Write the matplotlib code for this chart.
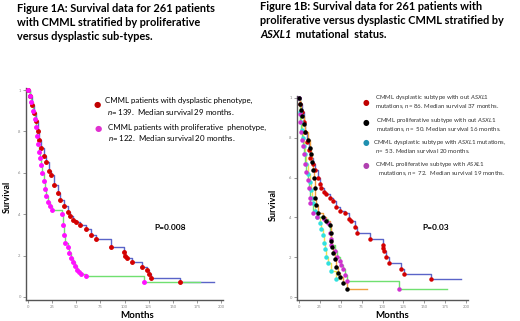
import numpy as np
import matplotlib
matplotlib.use("Agg")
import matplotlib.pyplot as plt

plt.rcParams['font.family'] = ['Lato', 'DejaVu Sans']
plt.rcParams['mathtext.fontset'] = 'custom'
plt.rcParams['mathtext.rm'] = 'Lato'
plt.rcParams['mathtext.it'] = 'Lato:italic'

#%% data
x_ticks = [0, 25, 50, 75, 100, 125, 150, 175, 200]
y_ticks = [0, 0.2, 0.4, 0.6, 0.8, 1.0]
y_ticklabels = ['0', '.2', '.4', '.6', '.8', '1']

# Fig 1A
dys_t = [0, 2, 4, 6, 8, 10, 11, 14, 17, 19, 22, 24, 27, 31, 33, 37, 41, 44, 47, 50,
         54, 60, 65, 70, 86, 99, 101, 103, 108, 118, 123, 125, 127, 157]
dys_s = [1.0, 0.97, 0.93, 0.89, 0.85, 0.8, 0.76, 0.72, 0.68, 0.65, 0.61, 0.59, 0.54, 0.5,
         0.47, 0.44, 0.41, 0.39, 0.37, 0.36, 0.35, 0.33, 0.3, 0.28, 0.24, 0.215, 0.2, 0.19,
         0.17, 0.145, 0.13, 0.11, 0.09, 0.07]
dys_end = 193

pro_t = [0, 2, 3, 5, 7, 8, 9, 10, 11, 12, 14, 15, 17, 18, 19, 21, 23, 25, 35, 36, 37, 38,
         41, 43, 45, 47, 49, 51, 53, 55, 60, 120]
pro_s = [1.0, 0.97, 0.94, 0.9, 0.86, 0.82, 0.78, 0.74, 0.7, 0.67, 0.64, 0.6, 0.56, 0.52,
         0.49, 0.46, 0.44, 0.42, 0.4, 0.35, 0.3, 0.26, 0.24, 0.21, 0.19, 0.17, 0.15, 0.13,
         0.12, 0.11, 0.1, 0.07]
pro_end = 178

# Fig 1B
dwo_t = [0, 2, 4, 6, 8, 10, 12, 14, 17, 20, 23, 25, 27, 30, 33, 37, 41, 45, 49, 55, 60,
         63, 67, 70, 85, 100, 101, 102, 104, 108, 122, 126, 158]
dwo_s = [1.0, 0.97, 0.93, 0.88, 0.83, 0.78, 0.74, 0.7, 0.67, 0.64, 0.6, 0.57, 0.55, 0.53,
         0.52, 0.5, 0.48, 0.45, 0.43, 0.42, 0.39, 0.38, 0.35, 0.32, 0.29, 0.26, 0.245,
         0.23, 0.2, 0.17, 0.14, 0.115, 0.09]
dwo_end = 194

pwo_t = [0, 2, 3, 4, 6, 8, 11, 13, 15, 16, 17, 18, 19, 20, 21, 23, 29, 33, 37, 38, 39,
         40, 41, 43, 45, 47, 49, 53, 58]
pwo_s = [1.0, 0.97, 0.94, 0.91, 0.87, 0.83, 0.79, 0.75, 0.72, 0.68, 0.64, 0.6, 0.55, 0.5,
         0.46, 0.42, 0.4, 0.38, 0.36, 0.32, 0.28, 0.25, 0.22, 0.19, 0.15, 0.12, 0.1, 0.07,
         0.04]
pwo_end = 81

dwa_t = [0, 1, 3, 4, 5, 6, 7, 9, 11, 13, 15, 16, 17, 19, 22, 25, 27, 29, 30, 31, 33, 35,
         39, 45]
dwa_s = [1.0, 0.93, 0.88, 0.84, 0.8, 0.76, 0.72, 0.67, 0.62, 0.58, 0.54, 0.5, 0.47, 0.43,
         0.4, 0.37, 0.34, 0.31, 0.27, 0.24, 0.2, 0.17, 0.13, 0.09]
dwa_end = 50

pwa_t = [0, 1, 2, 3, 4, 5, 6, 7, 9, 11, 12, 13, 14, 17, 22, 30, 35, 37, 38, 39, 43, 46,
         49, 51, 53, 55, 58, 120]
pwa_s = [1.0, 0.92, 0.88, 0.83, 0.79, 0.76, 0.72, 0.67, 0.63, 0.59, 0.55, 0.5, 0.47, 0.42,
         0.4, 0.39, 0.37, 0.32, 0.29, 0.26, 0.23, 0.2, 0.18, 0.16, 0.14, 0.11, 0.08, 0.04]
pwa_end = 177


def km(ax, t, s, t_end, line_c, mark_c, ms=2.5):
    ax.step(t + [t_end], s + [s[-1]], where='post', color=line_c, lw=1.0, zorder=2)
    ax.plot(t, s, 'o', ms=ms, color=mark_c, mec=mark_c, zorder=3)


def style(ax):
    ax.set_xlim(-2, 202)
    ax.set_ylim(-0.015, 1.01)
    ax.set_xticks(x_ticks)
    ax.set_xticklabels([str(v) for v in x_ticks], fontsize=3, color='#888888')
    ax.set_yticks(y_ticks)
    ax.set_yticklabels(y_ticklabels, fontsize=3, color='#888888')
    ax.tick_params(length=2, width=0.6, pad=1.5, colors='#888888')
    for side in ['top', 'right']:
        ax.spines[side].set_visible(False)
    for side in ['left', 'bottom']:
        ax.spines[side].set_color('#555555')
        ax.spines[side].set_linewidth(1.0)


fig = plt.figure(figsize=(5.2, 3.21), dpi=100)
W, H = 520.0, 321.0

#%% left panel
axA = fig.add_axes([26 / W, 21 / H, 197 / W, 212 / H])
style(axA)
km(axA, dys_t, dys_s, dys_end, '#5a64c8', '#d40000')
km(axA, pro_t, pro_s, pro_end, '#70e070', '#ff10ff')

#%% right panel
axB = fig.add_axes([297 / W, 21 / H, 171 / W, 204 / H])
style(axB)
km(axB, dwo_t, dwo_s, dwo_end, '#5a64c8', '#d40000', ms=2.2)
km(axB, dwa_t, dwa_s, dwa_end, '#f0e050', '#30e0e0', ms=2.2)
km(axB, pwa_t, pwa_s, pwa_end, '#70e070', '#d030d0', ms=2.2)
km(axB, pwo_t, pwo_s, pwo_end, '#f0a040', '#000000', ms=2.2)


def fx(px):
    return px / W


def fy(py):
    return 1 - py / H


# titles
for yy, s in [(8, 'Figure 1A: Survival data for 261 patients'),
              (23, 'with CMML stratified by proliferative'),
              (37, 'versus dysplastic sub-types.')]:
    fig.text(fx(17), fy(yy), s, fontsize=7.9, fontweight='bold', va='center', ha='left')
fig.text(fx(260), fy(6), 'Figure 1B: Survival data for 261 patients with', fontsize=7.9,
         fontweight='bold', va='center', ha='left')
fig.text(fx(260), fy(20), 'proliferative versus dysplastic CMML stratified by', fontsize=7.9,
         fontweight='bold', va='center', ha='left')
fig.text(fx(260), fy(34), 'ASXL1', fontsize=7.9, fontweight='bold', style='italic',
         va='center', ha='left')
fig.text(fx(296), fy(34), 'mutational  status.', fontsize=7.9, fontweight='bold',
         va='center', ha='left')

# axis labels
for xx, yy in [(7, 197), (273, 205)]:
    fig.text(fx(xx), fy(yy), 'Survival', fontsize=6.5, fontweight='bold', rotation=90,
             va='center', ha='center')
for xx in [137, 392]:
    fig.text(fx(xx), fy(316), 'Months', fontsize=7, fontweight='bold', va='center', ha='center')

fig.text(fx(170), fy(228), 'P=0.008', fontsize=6, fontweight='bold', va='center', ha='center')
fig.text(fx(436), fy(228), 'P=0.03', fontsize=6, fontweight='bold', va='center', ha='center')

# legend A
fig.text(fx(97), fy(105), '●', color='#c00000', fontsize=6, va='center', ha='center', family='DejaVu Sans')
fig.text(fx(98), fy(129), '●', color='#e030d0', fontsize=6, va='center', ha='center', family='DejaVu Sans')
fig.text(fx(105), fy(100), 'CMML patients with dysplastic phenotype,', fontsize=5.7, va='center')
fig.text(fx(107), fy(112), r'$\mathit{n}$= 139.  Median survival 29 months.', fontsize=5.7, va='center')
fig.text(fx(108), fy(127), 'CMML patients with proliferative  phenotype,', fontsize=5.7, va='center')
fig.text(fx(108), fy(138), r'$\mathit{n}$= 122.  Median survival 20 months.', fontsize=5.7, va='center')

# legend B
for yy, c in [(102, '#c00000'), (123, '#000000'), (142, '#2090b0'), (166, '#b040b0')]:
    fig.text(fx(366), fy(yy), '●', color=c, fontsize=5.5, va='center', ha='center', family='DejaVu Sans')
legB = [
    (375, 98, r'CMML dysplastic subtype with out $\mathit{ASXL1}$'),
    (375, 107, r'mutations, $\mathit{n}$= 86. Median survival 37 months.'),
    (376, 121, r'CMML proliferative subtype with out $\mathit{ASXL1}$'),
    (376, 130, r'mutations, $\mathit{n}$=  50. Median survival 16 months.'),
    (373, 142, r'CMML dysplastic subtype with $\mathit{ASXL1}$ mutations,'),
    (375, 151, r'$\mathit{n}$=  53. Median survival 20 months.'),
    (375, 165, r'CMML proliferative subtype with $\mathit{ASXL1}$'),
    (378, 174, r'mutations, $\mathit{n}$=  72.  Median survival 19 months.'),
]
for xx, yy, s in legB:
    fig.text(fx(xx), fy(yy), s, fontsize=4.4, va='center', color='#333333')

plt.savefig('out.png', dpi=100)
